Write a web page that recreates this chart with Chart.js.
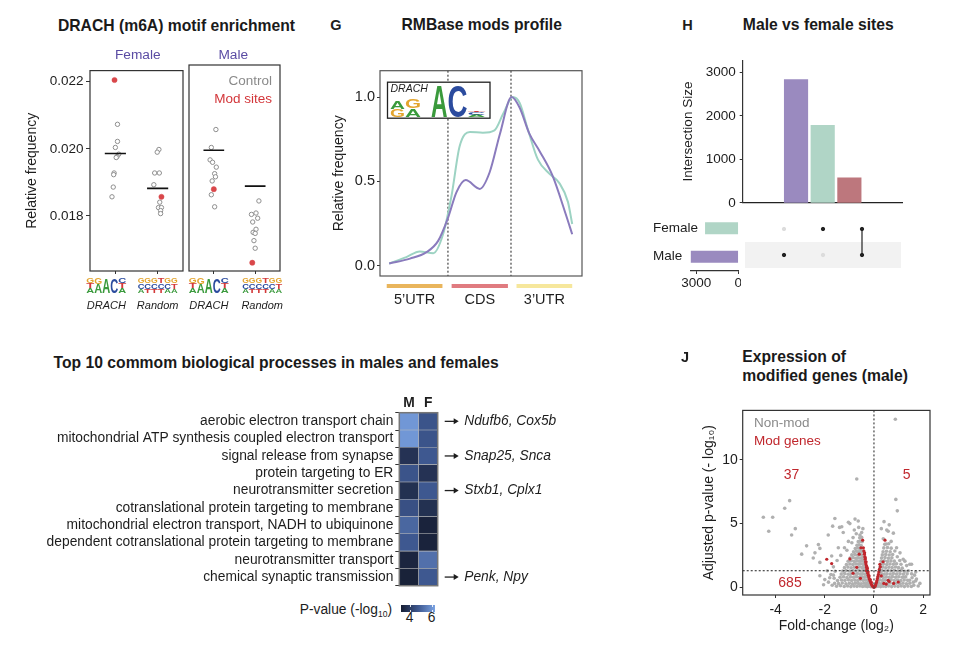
<!DOCTYPE html>
<html>
<head>
<meta charset="utf-8">
<script src="https://cdn.jsdelivr.net/npm/chart.js@4.4.1/dist/chart.umd.min.js"></script>
<style>
  body { margin: 0; background: #fff; }
  #fig { position: relative; width: 962px; height: 647px; overflow: hidden;
         font-family: "Liberation Sans", Arial, Helvetica, sans-serif; color: #1d1d1d; }
  #fig canvas { position: absolute; }
  .t { position: absolute; white-space: nowrap; line-height: 1; }
</style>
</head>
<body>
<div id="fig"></div>
<script>
// ---- panel 1: DRACH motif enrichment ----
const motifNames = ["DRACH", "Random"];
const motifTicks = [0.018, 0.020, 0.022];
const femaleCtrl = [[1.05, 0.02073], [1.05, 0.02022], [1.0, 0.02004], [1.08, 0.01984], [1.04, 0.01977], [1.02, 0.01974], [0.97, 0.01928], [0.96, 0.01923], [0.95, 0.01886], [0.92, 0.01857],
  [2.03, 0.01998], [1.99, 0.0199], [1.93, 0.01928], [2.04, 0.01928], [1.91, 0.01893], [2.05, 0.01841], [2.02, 0.01825], [2.09, 0.01825], [2.07, 0.01816], [2.07, 0.01807]];
const femaleMod = [[0.98, 0.02205], [2.09, 0.01857]];
const femaleMean = [0.01986, 0.01882];
const maleCtrl = [[1.05, 0.02046], [0.94, 0.01994], [0.91, 0.01958], [0.97, 0.01951], [1.06, 0.01937], [1.02, 0.01918], [1.04, 0.01909], [0.96, 0.01897], [0.94, 0.01857], [1.02, 0.01822],
  [2.09, 0.01839], [1.91, 0.018], [2.02, 0.01804], [2.06, 0.01789], [1.94, 0.01778], [2.02, 0.01757], [1.95, 0.01748], [2.0, 0.01745], [1.97, 0.01724], [2.0, 0.01702]];
const maleMod = [[1.0, 0.01873], [1.93, 0.0166]];
const maleMean = [0.01986, 0.01882];

// sequence logos, each column listed bottom -> top as [letter, share of height]
const drachLogo = [
  [["A", 0.36], ["T", 0.32], ["G", 0.32]],
  [["A", 0.58], ["G", 0.42]],
  [["A", 1]],
  [["C", 1]],
  [["A", 0.36], ["T", 0.32], ["C", 0.32]]
];
const randomLogo = [
  [["A", 0.3], ["C", 0.35], ["G", 0.35]],
  [["T", 0.3], ["C", 0.35], ["G", 0.35]],
  [["T", 0.3], ["C", 0.35], ["G", 0.35]],
  [["T", 0.3], ["C", 0.35], ["T", 0.35]],
  [["A", 0.3], ["C", 0.35], ["G", 0.35]],
  [["A", 0.3], ["T", 0.35], ["G", 0.35]]
];

// ---- panel G: RMBase mods profile ----
const profileFemaleX = [0, 0.28, 0.5, 0.72, 0.88, 1.02, 1.15, 1.32, 1.53, 1.72, 1.86, 2.02, 2.13, 2.27, 2.43, 2.62, 2.78, 2.92, 2.99];
const profileFemale = [0.014, 0.052, 0.085, 0.075, 0.187, 0.418, 0.707, 0.793, 0.789, 0.803, 0.899, 1.0, 0.966, 0.803, 0.629, 0.545, 0.49, 0.379, 0.248];
const profileMaleX = [0, 0.34, 0.61, 0.80, 0.96, 1.10, 1.25, 1.48, 1.64, 1.81, 2.0, 2.13, 2.29, 2.46, 2.67, 2.89, 2.99];
const profileMale = [0.014, 0.043, 0.081, 0.148, 0.283, 0.437, 0.508, 0.456, 0.553, 0.783, 1.0, 0.938, 0.783, 0.678, 0.533, 0.30, 0.187];
const profileTicks = [0, 0.5, 1.0];
const regionNames = ["5’UTR", "CDS", "3’UTR"];
const regionStart = [-0.04, 1.02, 2.08];
const regionEnd = [0.87, 1.94, 2.99];
const regionBreaks = [0.96, 1.99];
const insetLogo = [
  [["G", 0.23], ["A", 0.23]],
  [["A", 0.26], ["G", 0.28]],
  [],
  [["A", 1]],
  [["C", 1]],
  [["A", 0.06], ["C", 0.08], ["T", 0.05]]
];
const insetWidths = [15, 16, 10, 16.5, 20, 18];

// ---- panel H: male vs female sites ----
const intersectionSizes = [2830, 1780, 575];
const inFemale = [0, 1, 1];
const inMale = [1, 0, 1];
const setNames = ["Female", "Male"];
const setSizes = [2355, 3405];
const sizeTicks = [0, 1000, 2000, 3000];

// ---- heatmap: top 10 processes ----
const processes = [
  "aerobic electron transport chain",
  "mitochondrial ATP synthesis coupled electron transport",
  "signal release from synapse",
  "protein targeting to ER",
  "neurotransmitter secretion",
  "cotranslational protein targeting to membrane",
  "mitochondrial electron transport, NADH to ubiquinone",
  "dependent cotranslational protein targeting to membrane",
  "neurotransmitter transport",
  "chemical synaptic transmission"
];
const heatCols = ["M", "F"];
const pMale = [6.1, 6.1, 3.8, 4.7, 3.75, 4.6, 5.1, 4.8, 3.45, 3.35];
const pFemale = [4.7, 4.7, 4.8, 3.8, 4.8, 3.75, 3.4, 3.4, 5.3, 4.8];
const geneRows = [0, 2, 4, 9];
const geneNames = ["Ndufb6, Cox5b", "Snap25, Snca", "Stxb1, Cplx1", "Penk, Npy"];

// ---- panel J: volcano ----
const volcanoXTicks = [-4, -2, 0, 2];
const volcanoYTicks = [0, 5, 10];
const sigCutoff = 1.3;
const nonModGenes = [
  [0.87, 13.2], [-0.70, 8.5], [0.89, 6.9], [0.95, 6.0], [-3.43, 6.8], [-3.63, 6.2], [-4.5, 5.5], [-4.12, 5.5], [-4.28, 4.4], [-3.2, 4.6], [-3.35, 4.1],
  [-1.59, 5.4], [-0.77, 5.35], [-0.64, 5.2], [-1.04, 5.1], [-0.98, 5.0], [-1.68, 4.8], [-1.4, 4.7], [-1.31, 4.75], [-1.25, 4.3], [-1.86, 4.1], [-0.57, 4.1],
  [-2.74, 3.25], [-2.26, 3.35], [-2.2, 3.05], [-2.94, 2.6], [-2.4, 2.7], [-2.47, 2.3], [-2.2, 1.95], [-2.2, 0.9], [-1.04, 3.6], [-1.45, 3.1], [-1.72, 2.45],
  [0.41, 5.15], [0.62, 4.9], [0.52, 4.5], [0.79, 4.25], [0.38, 3.8], [0.58, 4.4], [0.92, 3.1], [1.06, 2.7], [0.85, 2.85], [1.19, 2.2], [1.26, 2.05],
  [1.53, 1.8], [1.46, 1.8], [1.33, 1.7], [1.53, 1.05], [1.73, 0.65], [1.87, 0.3], [1.6, 0.4], [1.2, 0.8], [-2.0, 0.6], [-1.9, 1.3], [-1.75, 1.0],
  [-1.65, 1.6], [-1.6, 0.3], [1.4, 1.3], [1.7, 1.2], [1.1, 1.8], [-1.2, 3.1], [-0.9, 3.5], [-0.8, 4.5], [-1.1, 2.9], [0.3, 4.6], [0.7, 3.6], [-0.45, 4.6],
  [0.5, 3.4], [-1.35, 2.5], [-1.5, 2.1], [-1.62, 0.7],
  [-1.7, 0.15], [-1.85, 0.4], [-1.65, 0.95], [-1.8, 0.75], [-2.05, 0.2], [-1.58, 1.25], [-0.72, 4.2], [-0.62, 4.7], [-0.85, 3.9], [-0.5, 4.3],
  [1.62, 0.15], [1.7, 0.5], [1.55, 0.75], [1.45, 0.55], [1.65, 0.95], [1.8, 0.1], [1.35, 1.05], [1.25, 1.25], [1.15, 1.5], [1.05, 2.1], [0.95, 2.4],
  [-1.52, 0.08], [-1.36, 0.12], [-1.21, 0.06], [-1.07, 0.1], [-0.94, 0.05], [-0.81, 0.09], [-0.69, 0.07], [-0.57, 0.1], [-0.46, 0.06], [-0.36, 0.09], [-0.27, 0.05], [-0.19, 0.08], [-0.12, 0.04],
  [-1.44, 0.28], [-1.29, 0.33], [-1.14, 0.27], [-1.0, 0.31], [-0.87, 0.26], [-0.75, 0.32], [-0.63, 0.29], [-0.52, 0.27], [-0.41, 0.31], [-0.31, 0.28], [-0.22, 0.3], [-0.15, 0.25],
  [-1.48, 0.52], [-1.32, 0.57], [-1.18, 0.54], [-1.04, 0.58], [-0.91, 0.53], [-0.78, 0.56], [-0.66, 0.52], [-0.55, 0.57], [-0.44, 0.54], [-0.34, 0.56], [-0.25, 0.52], [-0.19, 0.55],
  [-1.38, 0.78], [-1.24, 0.82], [-1.1, 0.77], [-0.96, 0.81], [-0.83, 0.79], [-0.71, 0.83], [-0.6, 0.78], [-0.49, 0.81], [-0.39, 0.79], [-0.3, 0.82], [-0.23, 0.77],
  [-1.33, 1.03], [-1.19, 1.07], [-1.05, 1.02], [-0.92, 1.06], [-0.79, 1.04], [-0.67, 1.08], [-0.56, 1.03], [-0.46, 1.06], [-0.37, 1.02], [-0.29, 1.07],
  [-1.27, 1.28], [-1.13, 1.32], [-0.99, 1.27], [-0.86, 1.31], [-0.74, 1.29], [-0.62, 1.33], [-0.52, 1.28], [-0.42, 1.31], [-0.33, 1.27],
  [-1.2, 1.54], [-1.06, 1.58], [-0.93, 1.53], [-0.8, 1.57], [-0.68, 1.55], [-0.57, 1.59], [-0.47, 1.54], [-0.38, 1.57],
  [-1.12, 1.79], [-0.98, 1.83], [-0.86, 1.78], [-0.74, 1.82], [-0.63, 1.8], [-0.53, 1.84], [-0.43, 1.79],
  [-1.05, 2.04], [-0.92, 2.08], [-0.8, 2.03], [-0.69, 2.07], [-0.59, 2.05], [-0.49, 2.09], [-0.42, 2.03],
  [-0.97, 2.29], [-0.85, 2.33], [-0.74, 2.28], [-0.64, 2.32], [-0.55, 2.3], [-0.46, 2.34],
  [-0.9, 2.54], [-0.78, 2.58], [-0.68, 2.53], [-0.59, 2.57], [-0.5, 2.55],
  [-0.83, 2.79], [-0.72, 2.83], [-0.63, 2.78], [-0.54, 2.82], [-0.47, 2.8],
  [-0.76, 3.04], [-0.66, 3.08], [-0.57, 3.03], [-0.49, 3.07],
  [-0.69, 3.29], [-0.6, 3.33], [-0.52, 3.28], [-0.64, 3.58], [-0.55, 3.62], [-0.48, 3.57], [-0.58, 3.88], [-0.5, 3.93],
  [0.1, 0.06], [0.18, 0.09], [0.27, 0.05], [0.37, 0.08], [0.48, 0.06], [0.6, 0.1], [0.72, 0.05], [0.85, 0.09], [0.98, 0.06], [1.11, 0.1], [1.24, 0.05], [1.38, 0.09], [1.52, 0.06],
  [0.13, 0.28], [0.21, 0.32], [0.31, 0.27], [0.42, 0.31], [0.54, 0.29], [0.66, 0.33], [0.79, 0.27], [0.92, 0.31], [1.05, 0.28], [1.18, 0.32], [1.32, 0.27], [1.46, 0.31],
  [0.15, 0.53], [0.24, 0.57], [0.35, 0.52], [0.46, 0.56], [0.58, 0.54], [0.7, 0.58], [0.83, 0.52], [0.96, 0.56], [1.09, 0.53], [1.23, 0.57], [1.37, 0.54],
  [0.17, 0.78], [0.27, 0.82], [0.38, 0.77], [0.5, 0.81], [0.62, 0.79], [0.75, 0.83], [0.88, 0.78], [1.01, 0.82], [1.15, 0.79], [1.29, 0.81],
  [0.19, 1.03], [0.3, 1.07], [0.41, 1.02], [0.53, 1.06], [0.66, 1.04], [0.79, 1.08], [0.92, 1.03], [1.06, 1.06], [1.2, 1.04],
  [0.22, 1.28], [0.33, 1.32], [0.45, 1.27], [0.57, 1.31], [0.7, 1.29], [0.83, 1.33], [0.97, 1.28], [1.1, 1.31],
  [0.24, 1.54], [0.36, 1.58], [0.48, 1.53], [0.61, 1.57], [0.74, 1.55], [0.88, 1.59], [1.0, 1.54],
  [0.27, 1.79], [0.39, 1.83], [0.52, 1.78], [0.65, 1.82], [0.79, 1.8], [0.92, 1.84],
  [0.29, 2.04], [0.42, 2.08], [0.55, 2.03], [0.69, 2.07], [0.83, 2.05],
  [0.31, 2.29], [0.45, 2.33], [0.59, 2.28], [0.73, 2.32], [0.34, 2.54], [0.48, 2.58], [0.62, 2.53], [0.76, 2.57],
  [0.37, 2.79], [0.51, 2.83], [0.66, 2.78], [0.4, 3.09], [0.55, 3.12], [0.7, 3.07], [0.44, 3.38], [0.6, 3.42]
];
const modGenes = [
  [-0.46, 3.7], [-0.53, 3.1], [-0.43, 3.1], [-0.41, 2.85], [-0.39, 2.6], [-0.37, 2.4], [-0.36, 2.2], [-0.34, 2.0], [-0.33, 1.85], [-0.31, 1.7],
  [-0.3, 1.55], [-0.28, 1.4], [-0.26, 1.25], [-0.25, 1.1], [-0.23, 0.95], [-0.21, 0.8], [-0.19, 0.65], [-0.16, 0.5], [-0.13, 0.35], [-0.1, 0.22],
  [-0.07, 0.12], [-0.04, 0.05], [-0.02, 0.02], [0, 0], [0.02, 0.02], [0.04, 0.06], [0.06, 0.14], [0.08, 0.25], [0.1, 0.38], [0.12, 0.52],
  [0.14, 0.68], [0.16, 0.85], [0.18, 1.0], [0.2, 1.2], [0.22, 1.4], [0.24, 1.8], [0.26, 1.6],
  [-0.38, 2.7], [-0.35, 2.3], [-0.32, 2.0], [-0.29, 1.6], [-0.27, 1.5], [-0.24, 1.2], [-0.2, 0.9], [-0.15, 0.6], [-0.11, 0.4],
  [-1.92, 2.2], [-1.72, 1.86], [-0.98, 2.22], [-0.7, 1.56], [-0.3, 1.3], [0.45, 3.7], [0.37, 2.0], [0.58, 0.54], [0.4, 0.3], [0.99, 0.41],
  [0.62, 0.45], [0.5, 0.25], [-0.55, 0.7], [-0.85, 1.1], [0.3, 0.9], [-0.6, 2.6], [0.8, 0.3]
];

const FONT = '"Liberation Sans", Arial, Helvetica, sans-serif';
const fig = document.getElementById("fig");
Chart.defaults.font.family = FONT;
Chart.defaults.color = "#1d1d1d";
Chart.defaults.animation = false;
Chart.defaults.responsive = false;
Chart.defaults.maintainAspectRatio = false;
Chart.defaults.events = [];
Chart.defaults.plugins.legend.display = false;
Chart.defaults.plugins.tooltip.enabled = false;

function makeCanvas(left, top, w, h) {
  const c = document.createElement("canvas");
  c.width = w; c.height = h;
  c.style.left = left + "px"; c.style.top = top + "px";
  c.style.width = w + "px"; c.style.height = h + "px";
  fig.appendChild(c);
  return c.getContext("2d");
}

function label(text, x, y, o = {}) {
  const d = document.createElement("div");
  d.className = "t";
  d.innerHTML = text;
  d.style.left = x + "px"; d.style.top = y + "px";
  d.style.fontSize = (o.size || 13.5) + "px";
  if (o.bold) d.style.fontWeight = "bold";
  if (o.italic) d.style.fontStyle = "italic";
  d.style.color = o.color || "#1d1d1d";
  const tx = o.align === "r" ? "-100%" : o.align === "c" ? "-50%" : "0";
  d.style.transform = "translate(" + tx + ", -50%)";
  fig.appendChild(d);
}

const fixTicks = vals => scale => { scale.ticks = vals.map(v => ({ value: v })); };
const fixW = w => s => { s.width = w; };
const fixH = h => s => { s.height = h; };
const tickGrid = len => ({ display: true, drawOnChartArea: false, drawTicks: true, tickLength: len, color: "#333", lineWidth: 1 });
const toXY = arr => arr.map(p => ({ x: p[0], y: p[1] }));
const plain = v => String(v);

const letterColors = { A: "#3a9a3c", C: "#2b4b9e", G: "#e3a52e", T: "#d33a3a" };
function drawLetter(ctx, ch, x, yBottom, w, h) {
  if (h < 0.3) return;
  ctx.save();
  ctx.font = "bold 100px " + FONT;
  const tw = ctx.measureText(ch).width;
  ctx.translate(x, yBottom);
  ctx.scale(w / tw, h / 72);
  ctx.fillStyle = letterColors[ch];
  ctx.textAlign = "left";
  ctx.textBaseline = "alphabetic";
  ctx.fillText(ch, 0, 0);
  ctx.restore();
}
function drawLogo(ctx, cols, x0, yBottom, widths, fullH) {
  let x = x0;
  cols.forEach((col, i) => {
    let y = yBottom;
    col.forEach(([ch, f]) => {
      drawLetter(ctx, ch, x, y, widths[i], f * fullH);
      y -= f * fullH;
    });
    x += widths[i];
  });
}

// ---------- panel 1 ----------
const facetPlugin = {
  id: "facet",
  afterDraw(chart, args, opts) {
    const { ctx, chartArea: a, scales: { x } } = chart;
    ctx.save();
    ctx.strokeStyle = "#333"; ctx.lineWidth = 1.2;
    ctx.strokeRect(a.left, a.top, a.right - a.left, a.bottom - a.top);
    motifNames.forEach((name, i) => {
      const cx = x.getPixelForValue(i + 1) + opts.shift[i];
      const cols = i === 0 ? drachLogo : randomLogo;
      const w = 40, cw = cols.map(() => w / cols.length);
      drawLogo(ctx, cols, cx - w / 2, a.bottom + 22, cw, 15);
      ctx.font = "italic 11px " + FONT;
      ctx.fillStyle = "#1d1d1d"; ctx.textAlign = "center"; ctx.textBaseline = "middle";
      ctx.fillText(name, cx, a.bottom + 35);
    });
    ctx.restore();
  }
};

function meanSegments(means) {
  return [
    { x: 0.75, y: means[0] }, { x: 1.25, y: means[0] }, { x: 1.5, y: null },
    { x: 1.75, y: means[1] }, { x: 2.25, y: means[1] }
  ];
}

function motifChart(ctx, ctrl, mod, means, showY, shift) {
  return new Chart(ctx, {
    type: "scatter",
    data: {
      datasets: [
        { type: "line", data: meanSegments(means), borderColor: "#111", borderWidth: 1.6, pointRadius: 0, spanGaps: false },
        { data: toXY(mod), pointRadius: 2.6, pointBackgroundColor: "#d9474a", pointBorderColor: "#d9474a", pointBorderWidth: 0.5 },
        { data: toXY(ctrl), pointRadius: 2.2, pointBackgroundColor: "#fff", pointBorderColor: "#8e8e8e", pointBorderWidth: 1 }
      ]
    },
    options: {
      layout: { padding: { left: showY ? 0 : 3, right: 4, top: 5, bottom: 2 } },
      scales: {
        x: {
          type: "linear", min: 0.4, max: 2.6, afterBuildTicks: fixTicks([1, 2]),
          ticks: { display: false }, grid: tickGrid(3), border: { display: false }, afterFit: fixH(42)
        },
        y: {
          display: showY, min: 0.01636, max: 0.02233, afterBuildTicks: fixTicks(motifTicks),
          ticks: { font: { size: 13.5 }, padding: 2.5, callback: v => v.toFixed(3) },
          grid: tickGrid(4), border: { display: false },
          title: { display: true, text: "Relative frequency", font: { size: 14 } },
          afterFit: fixW(showY ? 70 : 0)
        }
      },
      plugins: { facet: { shift } }
    },
    plugins: [facetPlugin]
  });
}

motifChart(makeCanvas(20, 60, 168, 255), femaleCtrl, femaleMod, femaleMean, true, [-9, 0]);
motifChart(makeCanvas(184, 60, 101, 255), maleCtrl, maleMod, maleMean, false, [-5, 7]);

label("DRACH (m6A) motif enrichment", 176.5, 25.5, { size: 15.7, bold: true, align: "c", color: "#1a1a1a" });
label("Female", 137.8, 55, { size: 13.7, align: "c", color: "#5a4ba3" });
label("Male", 233.3, 55, { size: 13.7, align: "c", color: "#5a4ba3" });
label("Control", 272, 81, { size: 13.5, align: "r", color: "#8a8a8a" });
label("Mod sites", 272, 99, { size: 13.5, align: "r", color: "#d3363a" });

// ---------- panel G ----------
const profilePlugin = {
  id: "profile",
  beforeDatasetsDraw(chart) {
    const { ctx, chartArea: a, scales: { x } } = chart;
    ctx.save();
    ctx.strokeStyle = "#444"; ctx.lineWidth = 1.2; ctx.setLineDash([2, 2]);
    regionBreaks.forEach(b => {
      const px = x.getPixelForValue(b);
      ctx.beginPath(); ctx.moveTo(px, a.top); ctx.lineTo(px, a.bottom); ctx.stroke();
    });
    ctx.restore();
  },
  afterDraw(chart) {
    const { ctx, chartArea: a, scales: { x } } = chart;
    ctx.save();
    ctx.strokeStyle = "#555"; ctx.lineWidth = 1.2;
    ctx.strokeRect(a.left, a.top, a.right - a.left, a.bottom - a.top);
    const regionColors = ["#e9b55c", "#e07b80", "#f6e79c"];
    regionNames.forEach((n, i) => {
      const x0 = x.getPixelForValue(regionStart[i]), x1 = x.getPixelForValue(regionEnd[i]);
      ctx.fillStyle = regionColors[i];
      ctx.fillRect(x0, a.bottom + 8, x1 - x0, 4);
    });
    // DRACH logo inset
    const bx = a.left + 7.5, by = a.top + 11.5;
    ctx.fillStyle = "#fff"; ctx.fillRect(bx, by, 102.5, 36);
    ctx.strokeStyle = "#222"; ctx.lineWidth = 1.3; ctx.strokeRect(bx, by, 102.5, 36);
    ctx.font = "italic 10.5px " + FONT; ctx.fillStyle = "#1d1d1d";
    ctx.textAlign = "left"; ctx.textBaseline = "middle";
    ctx.fillText("DRACH", bx + 3, by + 7);
    drawLogo(ctx, insetLogo, bx + 2.5, by + 34.5, insetWidths, 32);
    ctx.restore();
  }
};

new Chart(makeCanvas(327, 60, 258, 252), {
  type: "scatter",
  data: {
    datasets: [
      { data: profileMaleX.map((x, i) => ({ x, y: profileMale[i] })), showLine: true, pointRadius: 0, borderColor: "#8a7bbd", borderWidth: 2, cubicInterpolationMode: "monotone" },
      { data: profileFemaleX.map((x, i) => ({ x, y: profileFemale[i] })), showLine: true, pointRadius: 0, borderColor: "#9dd3c3", borderWidth: 2, cubicInterpolationMode: "monotone" }
    ]
  },
  options: {
    layout: { padding: { left: 0, right: 3, top: 6, bottom: 2 } },
    scales: {
      x: {
        type: "linear", min: -0.15, max: 3.15,
        afterBuildTicks: fixTicks(regionStart.map((s, i) => (s + regionEnd[i]) / 2)),
        ticks: { font: { size: 14.5 }, padding: 15.3, callback: (v, i) => regionNames[i] },
        grid: { display: false, drawTicks: false }, border: { display: false }, afterFit: fixH(34)
      },
      y: {
        min: -0.06, max: 1.156, afterBuildTicks: fixTicks(profileTicks),
        ticks: { font: { size: 14.5 }, padding: 2, callback: v => v.toFixed(1) },
        grid: tickGrid(3), border: { display: false },
        title: { display: true, text: "Relative frequency", font: { size: 14 } },
        afterFit: fixW(53)
      }
    }
  },
  plugins: [profilePlugin]
});

label("G", 336, 25, { size: 14.5, bold: true, align: "c" });
label("RMBase mods profile", 481.7, 25, { size: 15.7, bold: true, align: "c", color: "#1a1a1a" });

// ---------- panel H ----------
const interColors = ["#9a8abf", "#b0d5c6", "#bd777d"];
new Chart(makeCanvas(676, 48, 232, 167), {
  type: "bar",
  data: {
    datasets: [{
      data: intersectionSizes.map((v, i) => ({ x: i + 1, y: v })),
      backgroundColor: interColors, barThickness: 23.5
    }]
  },
  options: {
    layout: { padding: { left: 0, right: 5.3, top: 7, bottom: 3 } },
    scales: {
      x: {
        type: "linear", min: 0, max: 4, ticks: { display: false },
        grid: { display: false }, border: { display: true, color: "#222", width: 1.2 }, afterFit: fixH(1)
      },
      y: {
        min: 0, max: 3280, afterBuildTicks: fixTicks(sizeTicks),
        ticks: { font: { size: 13.5 }, padding: 4, callback: plain },
        grid: tickGrid(3), border: { display: true, color: "#333", width: 1.2 },
        title: { display: true, text: "Intersection Size", font: { size: 13.5 } },
        afterFit: fixW(66.7)
      }
    }
  }
});

const matrixPlugin = {
  id: "matrix",
  beforeDatasetsDraw(chart) {
    const { ctx, chartArea: a, scales: { y } } = chart;
    ctx.save();
    ctx.fillStyle = "#f2f2f2";
    const y0 = y.getPixelForValue(1.5), y1 = y.getPixelForValue(0.5);
    ctx.fillRect(a.left, y0, a.right - a.left, y1 - y0);
    ctx.restore();
  }
};
const memberDots = [], emptyDots = [], connectors = [];
intersectionSizes.forEach((_, i) => {
  [[inFemale[i], 2], [inMale[i], 1]].forEach(([m, row]) => {
    (m ? memberDots : emptyDots).push({ x: i + 1, y: row });
  });
  if (inFemale[i] && inMale[i]) {
    connectors.push({ type: "line", data: [{ x: i + 1, y: 1 }, { x: i + 1, y: 2 }], borderColor: "#222", borderWidth: 1.2, pointRadius: 0 });
  }
});
new Chart(makeCanvas(740, 211, 166, 62), {
  type: "scatter",
  data: {
    datasets: [
      ...connectors,
      { data: memberDots, pointRadius: 1.7, pointBackgroundColor: "#222", pointBorderColor: "#222" },
      { data: emptyDots, pointRadius: 1.7, pointBackgroundColor: "#dcdcdc", pointBorderColor: "#dcdcdc" }
    ]
  },
  options: {
    layout: { padding: { left: 2.7, right: 3.3, top: 3, bottom: 2.3 } },
    scales: {
      x: { type: "linear", min: 0, max: 4, display: false },
      y: { type: "linear", min: 0.5, max: 2.5, display: false }
    }
  },
  plugins: [matrixPlugin]
});

const setLabelPlugin = {
  id: "setLabels",
  afterDraw(chart) {
    const { ctx, chartArea: a } = chart;
    const meta = chart.getDatasetMeta(0);
    ctx.save();
    ctx.font = "13.5px " + FONT; ctx.fillStyle = "#1d1d1d";
    ctx.textAlign = "left"; ctx.textBaseline = "middle";
    meta.data.forEach((bar, i) => ctx.fillText(setNames[i], a.left - 37.7, bar.y));
    ctx.restore();
  }
};
new Chart(makeCanvas(648, 210, 93, 83), {
  type: "bar",
  data: {
    labels: setNames,
    datasets: [{ data: setSizes, backgroundColor: ["#b0d5c6", "#9a8abf"], barThickness: 11.5 }]
  },
  options: {
    indexAxis: "y",
    layout: { padding: { left: 42.7, right: 2.7, top: 4, bottom: 2 } },
    scales: {
      x: {
        min: 0, max: 3405, reverse: true, afterBuildTicks: fixTicks([0, 3000]),
        ticks: { font: { size: 13.5 }, padding: 1, callback: plain },
        grid: tickGrid(3), border: { display: true, color: "#333", width: 1.2 }, afterFit: fixH(20)
      },
      y: { display: false }
    }
  },
  plugins: [setLabelPlugin]
});

label("H", 687.5, 25, { size: 14.5, bold: true, align: "c" });
label("Male vs female sites", 818.3, 25, { size: 15.7, bold: true, align: "c", color: "#1a1a1a" });

// ---------- heatmap ----------
const heatStops = [[3.23, [22, 29, 50]], [4.8, [62, 88, 144]], [6.32, [122, 162, 226]]];
function heatColor(v) {
  let k = 0;
  while (k < heatStops.length - 2 && v > heatStops[k + 1][0]) k++;
  const [v0, c0] = heatStops[k], [v1, c1] = heatStops[k + 1];
  const t = Math.max(0, Math.min(1, (v - v0) / (v1 - v0)));
  const c = c0.map((c, j) => Math.round(c + (c1[j] - c) * t));
  return "rgb(" + c.join(",") + ")";
}

const heatPlugin = {
  id: "heat",
  afterDraw(chart) {
    const { ctx, chartArea: a, scales: { y } } = chart;
    ctx.save();
    ctx.strokeStyle = "#777"; ctx.lineWidth = 1.5;
    ctx.strokeRect(a.left, a.top, a.right - a.left, a.bottom - a.top);
    ctx.fillStyle = "#1d1d1d"; ctx.strokeStyle = "#222"; ctx.lineWidth = 1.3;
    ctx.font = "italic 13.8px " + FONT;
    ctx.textAlign = "left"; ctx.textBaseline = "middle";
    geneRows.forEach((r, i) => {
      const py = y.getPixelForValue(r);
      const x0 = a.right + 7, x1 = a.right + 21;
      ctx.beginPath(); ctx.moveTo(x0, py); ctx.lineTo(x1 - 3, py); ctx.stroke();
      ctx.beginPath(); ctx.moveTo(x1, py); ctx.lineTo(x1 - 5, py - 3); ctx.lineTo(x1 - 5, py + 3); ctx.closePath(); ctx.fill();
      ctx.fillText(geneNames[i], a.right + 26.5, py);
    });
    ctx.restore();
  }
};

new Chart(makeCanvas(40, 388, 522, 208), {
  type: "bar",
  data: {
    labels: processes,
    datasets: [
      { data: processes.map(() => 1), backgroundColor: pMale.map(heatColor), borderColor: "rgba(150,150,150,0.55)", borderWidth: 0.6, borderSkipped: false, categoryPercentage: 1, barPercentage: 1 },
      { data: processes.map(() => 1), backgroundColor: pFemale.map(heatColor), borderColor: "rgba(150,150,150,0.55)", borderWidth: 0.6, borderSkipped: false, categoryPercentage: 1, barPercentage: 1 }
    ]
  },
  options: {
    indexAxis: "y",
    layout: { padding: { left: 0, right: 124.3, top: 1, bottom: 2.7 } },
    scales: {
      x: {
        position: "top", stacked: true, min: 0, max: 2, afterBuildTicks: fixTicks([0.5, 1.5]),
        ticks: { font: { size: 13.8, weight: "bold" }, padding: 1.7, callback: (v, i) => heatCols[i] },
        grid: { display: false, drawTicks: false }, border: { display: false }, afterFit: fixH(23.7)
      },
      y: {
        stacked: true,
        ticks: { font: { size: 13.8 }, padding: 2, autoSkip: false },
        grid: tickGrid(4), border: { display: false }, afterFit: fixW(359.3)
      }
    }
  },
  plugins: [heatPlugin]
});

label("Top 10 commom biological processes in males and females", 53.6, 362.7, { size: 15.7, bold: true, color: "#1a1a1a" });
label('P-value (-log<span style="font-size:8.5px;vertical-align:-3px">10</span>)', 392, 610.7, { size: 13.8, align: "r" });
(function colorbar() {
  const d = document.createElement("div");
  d.style.cssText = "position:absolute;left:401px;top:604.5px;width:34px;height:7.5px;" +
    "background:linear-gradient(to right," + heatColor(3.23) + "," + heatColor(4.8) + " 50.8%," + heatColor(6.32) + ");";
  fig.appendChild(d);
  [409.5, 431.5].forEach(x => {
    ["604.5px", "610px"].forEach(top => {
      const m = document.createElement("div");
      m.style.cssText = "position:absolute;left:" + x + "px;top:" + top + ";width:1px;height:2px;background:rgba(255,255,255,0.85);";
      fig.appendChild(m);
    });
  });
})();
label("4", 409.5, 618.3, { size: 13.8, align: "c" });
label("6", 431.5, 618.3, { size: 13.8, align: "c" });

// ---------- panel J ----------
const volcanoPlugin = {
  id: "volcano",
  afterDatasetsDraw(chart) {
    const { ctx, chartArea: a, scales: { x, y } } = chart;
    ctx.save();
    ctx.strokeStyle = "#444"; ctx.lineWidth = 1.2; ctx.setLineDash([2, 2]);
    const px = x.getPixelForValue(0), py = y.getPixelForValue(sigCutoff);
    ctx.beginPath(); ctx.moveTo(px, a.top); ctx.lineTo(px, a.bottom); ctx.stroke();
    ctx.beginPath(); ctx.moveTo(a.left, py); ctx.lineTo(a.right, py); ctx.stroke();
    ctx.setLineDash([]);
    ctx.strokeStyle = "#333"; ctx.lineWidth = 1.2;
    ctx.strokeRect(a.left, a.top, a.right - a.left, a.bottom - a.top);
    ctx.restore();
  }
};

new Chart(makeCanvas(697, 400, 237, 245), {
  type: "scatter",
  data: {
    datasets: [
      { data: toXY(modGenes), pointRadius: 1.6, pointBackgroundColor: "#c0272d", pointBorderWidth: 0 },
      { data: toXY(nonModGenes), pointRadius: 1.8, pointBackgroundColor: "#b0b0b0", pointBorderWidth: 0 }
    ]
  },
  options: {
    layout: { padding: { left: 0, right: 4, top: 6, bottom: 6 } },
    scales: {
      x: {
        min: -5.34, max: 2.28, afterBuildTicks: fixTicks(volcanoXTicks),
        ticks: { font: { size: 14 }, padding: 3.6 },
        grid: tickGrid(3), border: { display: false },
        title: { display: true, text: "Fold-change (log₂)", font: { size: 14 } },
        afterFit: fixH(44)
      },
      y: {
        min: -0.61, max: 13.89, afterBuildTicks: fixTicks(volcanoYTicks),
        ticks: { font: { size: 14 }, padding: 2 },
        grid: tickGrid(3), border: { display: false },
        title: { display: true, text: "Adjusted p-value (- log₁₀)", font: { size: 14 } },
        afterFit: fixW(45.7)
      }
    }
  },
  plugins: [volcanoPlugin]
});

label("J", 685, 356.7, { size: 14.5, bold: true, align: "c" });
label("Expression of", 742.3, 356.7, { size: 15.7, bold: true, color: "#1a1a1a" });
label("modified genes (male)", 742.3, 376, { size: 15.7, bold: true, color: "#1a1a1a" });
label("Non-mod", 754, 423.3, { size: 13.5, color: "#8a8a8a" });
label("Mod genes", 754, 441, { size: 13.5, color: "#c0272d" });
label("37", 791.5, 474, { size: 14, align: "c", color: "#c0272d" });
label("5", 906.7, 474, { size: 14, align: "c", color: "#c0272d" });
label("685", 790, 581.7, { size: 14, align: "c", color: "#c0272d" });
</script>
</body>
</html>
